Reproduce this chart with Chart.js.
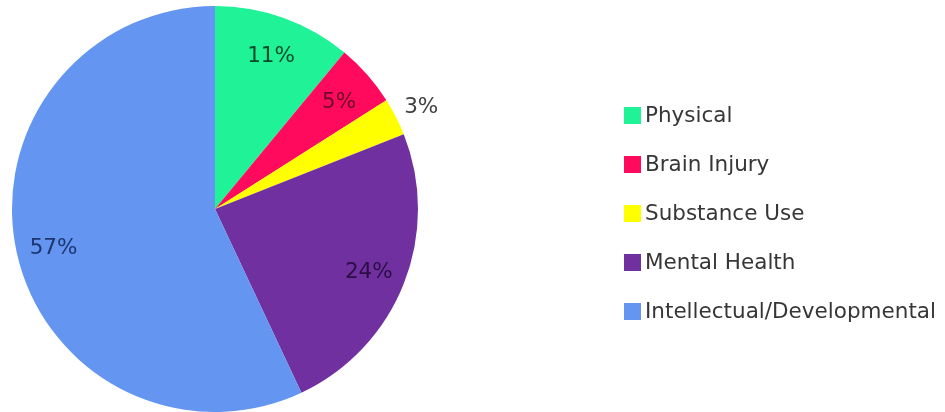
<!DOCTYPE html>
<html>
<head>
<meta charset="utf-8">
<script src="https://cdn.jsdelivr.net/npm/chart.js@4"></script>
<style>
  body { margin: 0; background: #fff; }
</style>
</head>
<body>
<canvas id="myChart" width="945" height="412"></canvas>
<script>
const categories = ['Physical', 'Brain Injury', 'Substance Use', 'Mental Health', 'Intellectual/Developmental']
const shares = [11, 5, 3, 24, 57]
const sliceColors = ['#1ff297', '#ff0a5c', '#ffff00', '#7030a0', '#6495f0']
const labelColors = ['#0d4a2c', '#6a0a2a', '#404040', '#2a0f45', '#1c3670']

const fontFamily = '"DejaVu Sans", sans-serif'

// percentage labels on the slices (the small one sits outside)
const sliceLabels = {
    id: 'sliceLabels',
    afterDatasetsDraw(chart) {
        const ctx = chart.ctx
        const arcs = chart.getDatasetMeta(0).data
        ctx.save()
        ctx.font = '21.5px ' + fontFamily
        ctx.textAlign = 'center'
        ctx.textBaseline = 'middle'
        arcs.forEach((arc, i) => {
            const mid = (arc.startAngle + arc.endAngle) / 2
            const k = shares[i] < 4 ? 1.14 : 0.815
            const r = arc.outerRadius * k
            ctx.fillStyle = labelColors[i]
            ctx.fillText(shares[i] + '%', arc.x + Math.cos(mid) * r, arc.y + Math.sin(mid) * r + 3)
        })
        ctx.restore()
    }
}

const sideLegend = {
    id: 'sideLegend',
    afterDraw(chart) {
        const ctx = chart.ctx
        ctx.save()
        ctx.font = '21.5px ' + fontFamily
        ctx.textBaseline = 'middle'
        categories.forEach((name, i) => {
            const y = 115 + i * 49
            ctx.fillStyle = sliceColors[i]
            ctx.fillRect(624, y - 8, 17, 17)
            ctx.fillStyle = '#363636'
            ctx.fillText(name, 645, y + 1)
        })
        ctx.restore()
    }
}

const ctx = document.getElementById('myChart')

new Chart(ctx, {
    type: 'pie',
    data: {
        labels: categories,
        datasets: [{
            data: shares,
            backgroundColor: sliceColors,
            borderWidth: 0,
            hoverOffset: 0
        }]
    },
    options: {
        responsive: false,
        animation: false,
        layout: {
            padding: { left: 12, top: 6, right: 527, bottom: 0 }
        },
        plugins: {
            legend: { display: false },
            tooltip: { enabled: false }
        }
    },
    plugins: [sliceLabels, sideLegend]
})
</script>
</body>
</html>
